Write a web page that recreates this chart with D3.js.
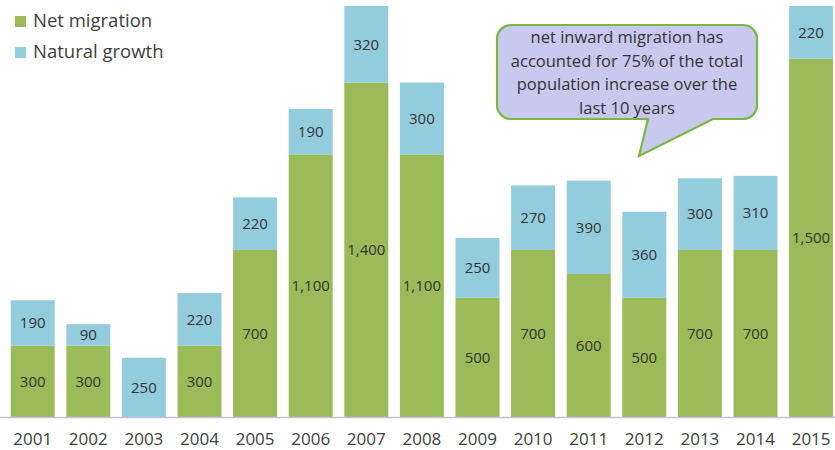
<!DOCTYPE html>
<html><head><meta charset="utf-8">
<script src="https://cdn.jsdelivr.net/npm/d3@7"></script>
<style>body{margin:0;background:#fff}svg{display:block}</style>
</head><body>
<script>
const years = ["2001","2002","2003","2004","2005","2006","2007","2008","2009","2010","2011","2012","2013","2014","2015"];
const netMigration = [300,300,0,300,700,1100,1400,1100,500,700,600,500,700,700,1500];
const naturalGrowth = [190,90,250,220,220,190,320,300,250,270,390,360,300,310,220];
const seriesNames = ["Net migration","Natural growth"];
const calloutLines = ["net inward migration has","accounted for 75% of the total","population increase over the","last 10 years"];

const W=835,H=450;
const colors=["#9bbb59","#93cddd"];
const font="'Open Sans', sans-serif";
const svg=d3.select("body").append("svg").attr("width",W).attr("height",H);

const x=d3.scaleBand().domain(years).range([4.9,838.9]).paddingInner(0.209).paddingOuter(0.1045);
const y=d3.scaleLinear().domain([0,1745]).range([417.5,0]);

const data=years.map((yr,i)=>({year:yr,net:netMigration[i],nat:naturalGrowth[i]}));
const stack=d3.stack().keys(["net","nat"])(data);

stack.forEach((layer,li)=>{
  const g=svg.append("g");
  g.selectAll("rect").data(layer).join("rect")
    .attr("x",d=>x(d.data.year)).attr("width",x.bandwidth())
    .attr("y",d=>y(d[1])).attr("height",d=>y(d[0])-y(d[1]))
    .attr("fill",colors[li]);
  g.selectAll("text").data(layer.filter(d=>d[1]-d[0]>0)).join("text")
    .attr("x",d=>x(d.data.year)+x.bandwidth()/2)
    .attr("y",d=>(y(d[0])+y(d[1]))/2)
    .attr("dy","0.35em").attr("text-anchor","middle")
    .attr("font-family",font).attr("font-size",15).attr("fill","#333")
    .text(d=>d3.format(",")(d[1]-d[0]));
});

// axis
const ax=svg.append("g").attr("transform",`translate(0,${y(0)})`)
  .call(d3.axisBottom(x).tickSize(0).tickPadding(15));
ax.select(".domain").attr("stroke","#c9bde3").attr("stroke-width",1.5).attr("d",`M0,0H${W}`);
ax.selectAll("text").attr("font-family",font).attr("font-size",17).attr("fill","#404040");

// legend
const lg=svg.append("g");
seriesNames.forEach((n,i)=>{
  lg.append("rect").attr("x",15).attr("y",16+i*31).attr("width",11).attr("height",11).attr("fill",colors[i]);
  lg.append("text").attr("x",33).attr("y",27+i*31).attr("font-family",font).attr("font-size",18.5).attr("fill","#404040").text(n);
});

// callout
const bx0=497,bx1=757,by0=25,by1=119,r=14;
const p=d3.path();
p.moveTo(bx0+r,by0);p.lineTo(bx1-r,by0);p.arcTo(bx1,by0,bx1,by0+r,r);
p.lineTo(bx1,by1-r);p.arcTo(bx1,by1,bx1-r,by1,r);
p.lineTo(713,by1);p.lineTo(639,156);p.lineTo(648,by1);
p.lineTo(bx0+r,by1);p.arcTo(bx0,by1,bx0,by1-r,r);
p.lineTo(bx0,by0+r);p.arcTo(bx0,by0,bx0+r,by0,r);p.closePath();
svg.append("path").attr("d",p.toString()).attr("fill","#c9c9ef").attr("stroke","#77b843").attr("stroke-width",2.2);
svg.append("g").selectAll("text").data(calloutLines).join("text")
  .attr("x",627).attr("y",(d,i)=>43+i*23.5).attr("text-anchor","middle")
  .attr("font-family",font).attr("font-size",16.5).attr("fill","#333").text(d=>d);
</script>
</body></html>
